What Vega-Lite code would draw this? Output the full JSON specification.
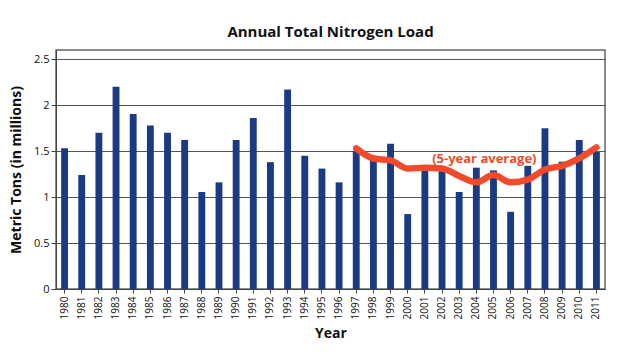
{
  "$schema": "https://vega.github.io/schema/vega-lite/v6.json",
  "width": 549,
  "height": 239,
  "autosize": {"type": "none"},
  "padding": {"left": 56, "top": 50, "right": 17, "bottom": 68},
  "background": "white",
  "title": {"text": "Annual Total Nitrogen Load", "fontSize": 15, "font": "Open Sans", "fontWeight": "bold", "color": "#111", "offset": 10},
  "config": {
    "font": "Open Sans",
    "view": {"stroke": "#666", "strokeWidth": 1.5},
    "axis": {"labelColor": "#111", "titleColor": "#111", "labelFont": "Open Sans", "titleFont": "Open Sans"}
  },
  "datasets": {
    "main": [
      {"year": "1980", "load": 1.53},
      {"year": "1981", "load": 1.24},
      {"year": "1982", "load": 1.70},
      {"year": "1983", "load": 2.20},
      {"year": "1984", "load": 1.905},
      {"year": "1985", "load": 1.78},
      {"year": "1986", "load": 1.70},
      {"year": "1987", "load": 1.62},
      {"year": "1988", "load": 1.055},
      {"year": "1989", "load": 1.16},
      {"year": "1990", "load": 1.62},
      {"year": "1991", "load": 1.86},
      {"year": "1992", "load": 1.38},
      {"year": "1993", "load": 2.17},
      {"year": "1994", "load": 1.45},
      {"year": "1995", "load": 1.31},
      {"year": "1996", "load": 1.16},
      {"year": "1997", "load": 1.50, "avg": 1.53},
      {"year": "1998", "load": 1.45, "avg": 1.42},
      {"year": "1999", "load": 1.58, "avg": 1.40},
      {"year": "2000", "load": 0.815, "avg": 1.31},
      {"year": "2001", "load": 1.32, "avg": 1.32},
      {"year": "2002", "load": 1.29, "avg": 1.31},
      {"year": "2003", "load": 1.055, "avg": 1.23},
      {"year": "2004", "load": 1.32, "avg": 1.16},
      {"year": "2005", "load": 1.29, "avg": 1.24},
      {"year": "2006", "load": 0.84, "avg": 1.16},
      {"year": "2007", "load": 1.34, "avg": 1.19},
      {"year": "2008", "load": 1.75, "avg": 1.30},
      {"year": "2009", "load": 1.385, "avg": 1.34},
      {"year": "2010", "load": 1.62, "avg": 1.42},
      {"year": "2011", "load": 1.49, "avg": 1.54}
    ],
    "label": [{"year": "2004", "value": 1.41, "text": "(5-year average)"}]
  },
  "layer": [
    {
      "data": {"name": "main"},
      "mark": {"type": "bar", "color": "#1b3a84"},
      "encoding": {
        "x": {
          "field": "year", "type": "ordinal",
          "scale": {"paddingInner": 0.6, "paddingOuter": 0.3},
          "axis": {"title": "Year", "labelAngle": -90, "labelFontSize": 10, "titleFontSize": 14, "titleFontWeight": "bold", "titlePadding": 8, "tickColor": "#444", "tickSize": 4, "domainColor": "#444", "labelPadding": 3}
        },
        "y": {
          "field": "load", "type": "quantitative",
          "scale": {"domain": [0, 2.5]},
          "axis": {"title": "Metric Tons (in millions)", "values": [0, 0.5, 1, 1.5, 2, 2.5], "format": ".1~f", "labelFontSize": 11, "titleFontSize": 14, "titleFontWeight": "bold", "gridColor": "#555", "gridWidth": 1.2, "gridOpacity": 1, "tickColor": "#444", "tickSize": 5, "domainColor": "#444", "titlePadding": 10}
        }
      }
    },
    {
      "data": {"name": "main"},
      "mark": {"type": "line", "color": "#f24a2a", "strokeWidth": 6.5, "interpolate": "monotone", "strokeCap": "round"},
      "encoding": {
        "x": {"field": "year", "type": "ordinal"},
        "y": {"field": "avg", "type": "quantitative"}
      }
    },
    {
      "data": {"name": "label"},
      "mark": {"type": "text", "color": "#f24a2a", "fontWeight": "bold", "fontSize": 13, "dx": 8, "font": "Open Sans"},
      "encoding": {
        "x": {"field": "year", "type": "ordinal"},
        "y": {"field": "value", "type": "quantitative"},
        "text": {"field": "text"}
      }
    }
  ]
}
